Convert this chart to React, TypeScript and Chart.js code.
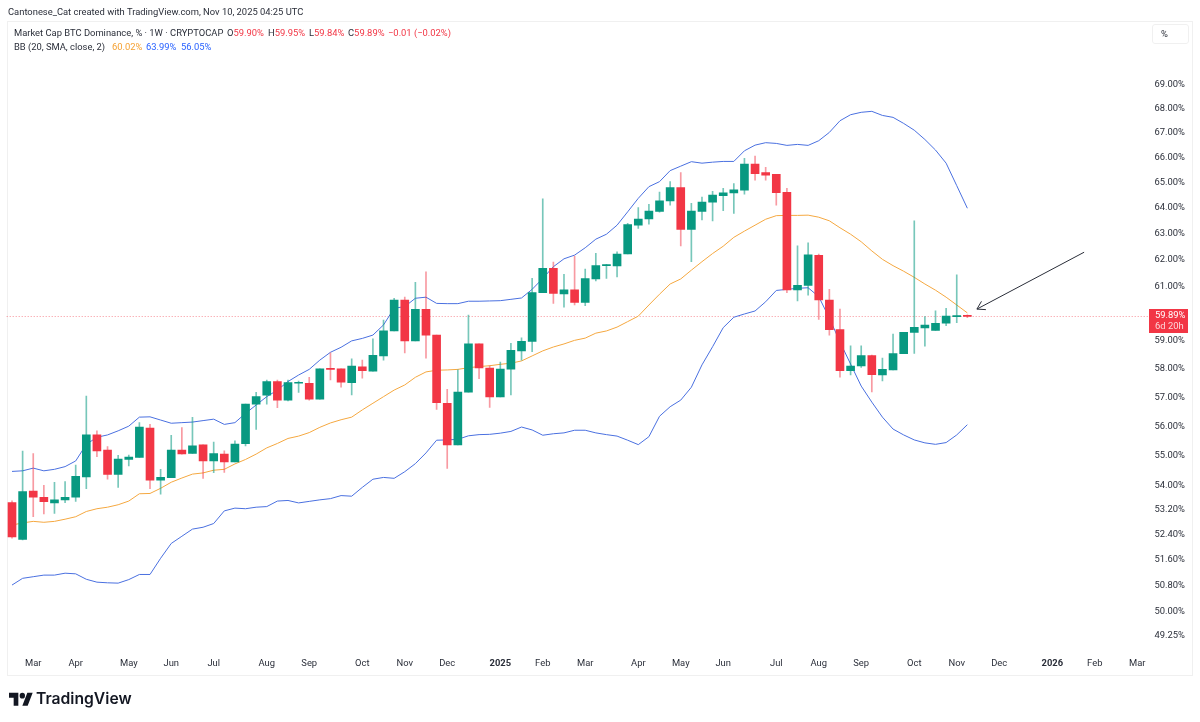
import React, { useEffect, useRef } from "react";
import { Chart, registerables } from "chart.js";

Chart.register(...registerables);

const opens = [
  53.44, 52.25, 53.82, 53.61, 53.43, 53.53, 53.62, 54.29, 55.7, 55.19,
  54.37, 54.87, 54.94, 55.93, 54.18, 54.26, 55.19, 55.07, 55.36, 54.82,
  55.05, 54.79, 55.4, 56.76, 57.07, 57.55, 56.9, 57.49, 57.49, 56.93,
  58.0, 58.0, 57.51, 58.07, 57.92, 58.46, 59.36, 60.49, 59.0, 60.15,
  59.21, 56.79, 55.36, 57.18, 58.89, 58.03, 57.01, 57.99, 58.64, 58.98,
  60.77, 61.68, 60.72, 60.87, 60.41, 61.28, 61.78, 61.77, 62.23, 63.33,
  63.57, 63.87, 64.28, 64.8, 63.17, 63.87, 64.23, 64.48, 64.59, 64.7,
  65.74, 65.4, 65.33, 64.62, 60.87, 61.04, 62.17, 60.49, 59.41, 57.93,
  58.1, 58.47, 57.78, 57.96, 58.54, 59.31, 59.47, 59.38, 59.64, 59.88, 59.9,
];
const closes = [
  52.33, 53.8, 53.62, 53.47, 53.53, 53.61, 54.31, 55.7, 55.16, 54.37,
  54.88, 54.95, 55.97, 54.18, 54.27, 55.19, 55.06, 55.33, 54.82, 55.07,
  54.79, 55.39, 56.76, 57.02, 57.55, 56.9, 57.51, 57.51, 56.93, 58.0,
  57.98, 57.53, 58.1, 57.93, 58.48, 59.36, 60.49, 59.0, 60.15, 59.21,
  56.81, 55.36, 57.18, 58.89, 58.03, 57.01, 57.99, 58.66, 58.98, 60.77,
  61.68, 60.74, 60.87, 60.41, 61.29, 61.78, 61.8, 62.22, 63.35, 63.57,
  63.88, 64.28, 64.8, 63.17, 63.88, 64.23, 64.51, 64.6, 64.72, 65.74,
  65.36, 65.3, 64.6, 60.87, 61.04, 62.19, 60.5, 59.41, 57.93, 58.1,
  58.47, 57.79, 57.98, 58.54, 59.31, 59.49, 59.57, 59.64, 59.9, 59.9, 59.89,
];
const highs = [
  53.5, 55.15, 55.07, 54.01, 54.11, 54.13, 54.68, 57.04, 55.84, 55.3,
  55.01, 55.02, 56.12, 56.06, 54.54, 55.69, 55.95, 56.3, 55.36, 55.46,
  55.16, 55.5, 56.76, 57.17, 57.6, 57.6, 57.6, 57.57, 57.7, 58.0,
  58.57, 58.0, 58.36, 58.31, 59.07, 59.76, 60.56, 60.6, 61.15, 61.55,
  59.21, 57.28, 57.96, 59.94, 58.89, 58.11, 58.24, 58.91, 59.11, 61.3,
  64.36, 61.92, 61.45, 62.14, 61.65, 62.25, 61.83, 62.31, 63.4, 64.02,
  64.14, 64.63, 65.04, 65.4, 64.18, 64.43, 64.66, 64.77, 64.96, 65.97,
  66.07, 65.61, 65.33, 64.77, 62.53, 62.65, 62.22, 60.89, 60.16, 58.82,
  58.82, 58.49, 58.38, 59.25, 59.31, 63.5, 59.88, 60.1, 60.19, 61.43, 59.95,
];
const lows = [
  52.29, 52.23, 52.98, 53.07, 53.09, 53.44, 53.48, 53.9, 54.96, 54.21,
  53.94, 54.65, 54.94, 53.9, 53.72, 54.26, 55.05, 55.07, 54.24, 54.43,
  54.44, 54.79, 55.33, 55.89, 56.76, 56.64, 56.87, 57.17, 56.9, 56.93,
  57.61, 57.35, 57.08, 57.67, 57.92, 58.31, 59.36, 58.57, 59.0, 58.38,
  56.58, 54.57, 55.36, 57.18, 57.65, 56.65, 57.01, 57.08, 58.31, 58.61,
  60.77, 60.37, 60.23, 60.31, 60.29, 61.21, 61.3, 61.36, 62.23, 63.2,
  63.37, 63.84, 64.11, 62.53, 61.93, 63.53, 63.5, 63.89, 63.79, 64.54,
  65.1, 65.1, 64.11, 60.77, 60.46, 60.67, 59.78, 59.21, 57.7, 57.78,
  58.05, 57.19, 57.57, 57.96, 58.54, 58.55, 58.81, 59.38, 59.55, 59.66, 59.84,
];
const bbUpper = [
  54.47, 54.49, 54.58, 54.49, 54.54, 54.63, 54.82, 55.38, 55.62, 55.7,
  55.84, 56.0, 56.31, 56.32, 56.21, 56.1, 56.12, 56.14, 56.19, 56.24,
  56.06, 56.12, 56.44, 56.73, 57.02, 57.25, 57.55, 57.78, 57.98, 58.31,
  58.59, 58.77, 59.0, 59.09, 59.21, 59.58, 60.19, 60.25, 60.56, 60.6,
  60.37, 60.36, 60.36, 60.45, 60.45, 60.46, 60.47, 60.52, 60.57, 60.89,
  61.3, 61.74, 62.04, 62.18, 62.46, 62.79, 62.98, 63.33, 63.85, 64.38,
  64.84, 65.04, 65.48, 65.66, 65.84, 65.78, 65.82, 65.85, 65.85, 66.28,
  66.51, 66.61, 66.58, 66.5, 66.54, 66.5, 66.69, 67.03, 67.51, 67.76,
  67.86, 67.9, 67.73, 67.65, 67.4, 67.12, 66.74, 66.31, 65.78, 64.88, 63.99,
];
const bbBasis = [
  52.71, 52.78, 52.83, 52.8, 52.83, 52.9, 52.98, 53.15, 53.24, 53.29,
  53.37, 53.49, 53.73, 53.74, 53.91, 54.11, 54.25, 54.38, 54.42, 54.51,
  54.54, 54.72, 54.87, 55.05, 55.26, 55.41, 55.58, 55.66, 55.78, 55.96,
  56.11, 56.22, 56.31, 56.56, 56.79, 57.02, 57.25, 57.43, 57.7, 57.89,
  57.95, 57.96, 57.98, 58.04, 58.08, 58.11, 58.16, 58.2, 58.28, 58.46,
  58.64, 58.78, 58.89, 59.02, 59.1, 59.28, 59.36, 59.5, 59.7, 59.9,
  60.31, 60.71, 61.09, 61.28, 61.61, 61.93, 62.24, 62.52, 62.86, 63.1,
  63.33, 63.56, 63.7, 63.71, 63.71, 63.72, 63.64, 63.5, 63.23, 62.98,
  62.69, 62.34, 62.02, 61.78, 61.57, 61.34, 61.09, 60.86, 60.6, 60.31, 60.02,
];
const bbLower = [
  50.81, 51.02, 51.07, 51.12, 51.12, 51.18, 51.16, 50.99, 50.9, 50.88,
  50.87, 50.98, 51.14, 51.14, 51.65, 52.12, 52.35, 52.58, 52.64, 52.76,
  53.17, 53.26, 53.24, 53.29, 53.31, 53.49, 53.51, 53.43, 53.48, 53.53,
  53.57, 53.67, 53.65, 53.94, 54.21, 54.27, 54.24, 54.46, 54.73, 55.09,
  55.52, 55.53, 55.55, 55.67, 55.71, 55.72, 55.76, 55.82, 55.97, 55.87,
  55.69, 55.74, 55.77, 55.86, 55.86, 55.77, 55.71, 55.66, 55.52, 55.37,
  55.64, 56.34, 56.67, 56.9, 57.35, 58.14, 58.79, 59.48, 59.86, 59.98,
  60.09, 60.43, 60.85, 60.89, 60.93, 60.95, 60.62, 59.83, 58.96, 58.17,
  57.39, 56.83, 56.31, 55.9, 55.7, 55.53, 55.43, 55.38, 55.44, 55.7, 56.05,
];

// one slot per week, future weeks stay empty
const WEEKS = 107;
const monthWeeks = [2, 6, 11, 15, 19, 24, 28, 33, 37, 41, 46, 50, 54, 59, 63, 67, 72, 76, 80, 85, 89, 93, 98, 102, 106];
const monthNames = ["Mar", "Apr", "May", "Jun", "Jul", "Aug", "Sep", "Oct", "Nov", "Dec", "2025", "Feb", "Mar", "Apr", "May", "Jun", "Jul", "Aug", "Sep", "Oct", "Nov", "Dec", "2026", "Feb", "Mar"];
const categories: string[] = [];
for (let i = 0; i < WEEKS; i++) {
  const m = monthWeeks.indexOf(i);
  categories.push(m >= 0 ? monthNames[m] : "");
}

const priceTicks = [69, 68, 67, 66, 65, 64, 63, 62, 61, 59, 58, 57, 56, 55, 54, 53.2, 52.4, 51.6, 50.8, 50, 49.25];
const lastPrice = 59.89;
const arrowFrom = { week: 101, price: 62.29 };
const arrowTo = { week: 90.9, price: 60.16 };

const GREEN = "#089981";
const RED = "#f23645";
const GREEN_WICK = "rgba(8,153,129,0.55)";
const RED_WICK = "rgba(242,54,69,0.5)";
const BLUE = "#4a70e0";
const ORANGE = "#f5a840";
const FONT = 'Roboto, sans-serif';
const FONT_SIZE = 9.4;

const isUp = (i: number) => closes[i] >= opens[i];

// dotted last price line and its tag, arrow drawing on top
const overlayPlugin = {
  id: "overlay",
  beforeDatasetsDraw(chart: any) {
    const { ctx, chartArea, scales } = chart;
    const y = scales.y.getPixelForValue(lastPrice);
    ctx.save();
    ctx.strokeStyle = "rgba(242,54,69,0.55)";
    ctx.lineWidth = 1;
    ctx.setLineDash([1, 2]);
    ctx.beginPath();
    ctx.moveTo(chartArea.left, Math.round(y) + 0.5);
    ctx.lineTo(chartArea.right + 7, Math.round(y) + 0.5);
    ctx.stroke();
    ctx.restore();
  },
  afterDatasetsDraw(chart: any) {
    const { ctx, chartArea, scales } = chart;
    const y = scales.y.getPixelForValue(lastPrice);

    const x1 = scales.x.getPixelForValue(arrowFrom.week);
    const y1 = scales.y.getPixelForValue(arrowFrom.price);
    const x2 = scales.x.getPixelForValue(arrowTo.week);
    const y2 = scales.y.getPixelForValue(arrowTo.price);
    const a = Math.atan2(y1 - y2, x1 - x2);
    ctx.save();
    ctx.strokeStyle = "#2a2e39";
    ctx.lineWidth = 1;
    ctx.beginPath();
    ctx.moveTo(x1, y1);
    ctx.lineTo(x2, y2);
    ctx.moveTo(x2 + 9 * Math.cos(a - 0.55), y2 + 9 * Math.sin(a - 0.55));
    ctx.lineTo(x2, y2);
    ctx.lineTo(x2 + 9 * Math.cos(a + 0.55), y2 + 9 * Math.sin(a + 0.55));
    ctx.stroke();

    const boxX = chartArea.right + 6.5;
    ctx.fillStyle = RED;
    ctx.fillRect(boxX, Math.round(y) - 7, 39, 24);
    ctx.fillStyle = "#ffffff";
    ctx.font = FONT_SIZE + "px " + FONT;
    ctx.textAlign = "left";
    ctx.textBaseline = "middle";
    ctx.fillText(lastPrice.toFixed(2) + "%", boxX + 6, Math.round(y) - 0.5);
    ctx.fillStyle = "rgba(255,255,255,0.8)";
    ctx.fillText("6d 20h", boxX + 6, Math.round(y) + 11);
    ctx.restore();
  },
};

const ohlcText: [string, string, number][] = [
  ["O", "59.90%", 227],
  ["H", "59.95%", 268],
  ["L", "59.84%", 309],
  ["C", "59.89%", 348],
];

const App: React.FC = () => {
  const chartRef = useRef<HTMLCanvasElement>(null);

  useEffect(() => {
    if (!chartRef.current) return;
    const chart = new Chart(chartRef.current, {
      type: "bar",
      plugins: [overlayPlugin],
      data: {
        labels: categories,
        datasets: [
          {
            type: "line",
            label: "Upper",
            data: bbUpper,
            borderColor: BLUE,
            borderWidth: 1,
            pointRadius: 0,
            tension: 0,
            order: 3,
          },
          {
            type: "line",
            label: "Basis",
            data: bbBasis,
            borderColor: ORANGE,
            borderWidth: 1,
            pointRadius: 0,
            tension: 0,
            order: 3,
          },
          {
            type: "line",
            label: "Lower",
            data: bbLower,
            borderColor: BLUE,
            borderWidth: 1,
            pointRadius: 0,
            tension: 0,
            order: 3,
          },
          {
            label: "Wick",
            data: lows.map((l, i) => [l, highs[i]]),
            backgroundColor: opens.map((_, i) => (isUp(i) ? GREEN_WICK : RED_WICK)),
            barThickness: 1,
            grouped: false,
            borderSkipped: false,
            order: 2,
          },
          {
            label: "Body",
            data: opens.map((o, i) => [o, closes[i]]),
            backgroundColor: opens.map((_, i) => (isUp(i) ? GREEN : RED)),
            barThickness: 8,
            minBarLength: 1,
            grouped: false,
            borderSkipped: false,
            order: 1,
          },
        ] as any,
      },
      options: {
        responsive: false,
        animation: false,
        layout: { autoPadding: false, padding: { left: 6.7, top: 21, right: 8, bottom: 47 } },
        plugins: { legend: { display: false }, tooltip: { enabled: false } },
        scales: {
          x: {
            offset: true,
            grid: { display: false, drawTicks: false },
            border: { display: false },
            afterFit: (scale: any) => {
              scale.height = 25;
            },
            ticks: {
              autoSkip: false,
              maxRotation: 0,
              minRotation: 0,
              padding: 8,
              color: "#2a2e39",
              font: (ctx: any) => ({
                family: FONT,
                size: FONT_SIZE,
                weight: /^\d/.test(ctx.tick?.label ?? "") ? "bold" : "normal",
              }),
            },
          },
          y: {
            type: "logarithmic",
            position: "right",
            min: 48.83,
            max: 71.76,
            grid: { display: false, drawTicks: false },
            border: { display: false },
            afterFit: (scale: any) => {
              scale.width = 49.5;
            },
            afterBuildTicks: (scale: any) => {
              scale.ticks = priceTicks.map((value) => ({ value }));
            },
            ticks: {
              autoSkip: false,
              padding: 12,
              color: "#2a2e39",
              font: { family: FONT, size: FONT_SIZE },
              callback: (v: any) => Number(v).toFixed(2) + "%",
            },
          },
        },
      } as any,
    });
    return () => chart.destroy();
  }, []);

  const textStyle: React.CSSProperties = {
    position: "absolute",
    fontFamily: FONT,
    fontSize: FONT_SIZE,
    lineHeight: "14px",
    whiteSpace: "nowrap",
    color: "#2a2e39",
  };

  return (
    <div style={{ position: "absolute", left: 0, top: 0, width: 1200, height: 722, background: "#fff", overflow: "hidden" }}>
      <div style={{ position: "absolute", left: 7, top: 21, width: 1184, height: 653, border: "1px solid #f0f0f0" }} />
      <canvas ref={chartRef} width={1200} height={722} style={{ position: "absolute", left: 0, top: 0 }} />
      <div style={{ ...textStyle, left: 8, top: 5 }}>Cantonese_Cat created with TradingView.com, Nov 10, 2025 04:25 UTC</div>
      <div style={{ ...textStyle, left: 14, top: 26 }}>Market Cap BTC Dominance, % · 1W · CRYPTOCAP</div>
      {ohlcText.map(([k, v, left]) => (
        <div key={k} style={{ ...textStyle, left, top: 26 }}>
          {k}
          <span style={{ color: RED }}>{v}</span>
        </div>
      ))}
      <div style={{ ...textStyle, left: 388, top: 26, color: RED }}>−0.01 (−0.02%)</div>
      <div style={{ ...textStyle, left: 14, top: 40 }}>BB (20, SMA, close, 2)</div>
      <div style={{ ...textStyle, left: 112, top: 40, color: "#f5a030" }}>60.02%</div>
      <div style={{ ...textStyle, left: 146, top: 40, color: "#2962ff" }}>63.99%</div>
      <div style={{ ...textStyle, left: 181, top: 40, color: "#2962ff" }}>56.05%</div>
      <div style={{ ...textStyle, left: 1152, top: 24, width: 27, height: 18, lineHeight: "18px", paddingLeft: 8, border: "1px solid #f0f0f0", borderRadius: 3 }}>%</div>
      <svg style={{ position: "absolute", left: 9, top: 690 }} width="24" height="20" viewBox="0 0 36 28" preserveAspectRatio="none">
        <path d="M14 22H7V11H0V4h14v18zM28 22h-8l7.5-18h8L28 22z" fill="#131722" />
        <circle cx="20" cy="8" r="4" fill="#131722" />
      </svg>
      <div style={{ ...textStyle, left: 36, top: 688, fontFamily: "Inter, sans-serif", fontSize: 15.7, fontWeight: 600, lineHeight: "22px", color: "#131722" }}>TradingView</div>
    </div>
  );
};

export default App;
